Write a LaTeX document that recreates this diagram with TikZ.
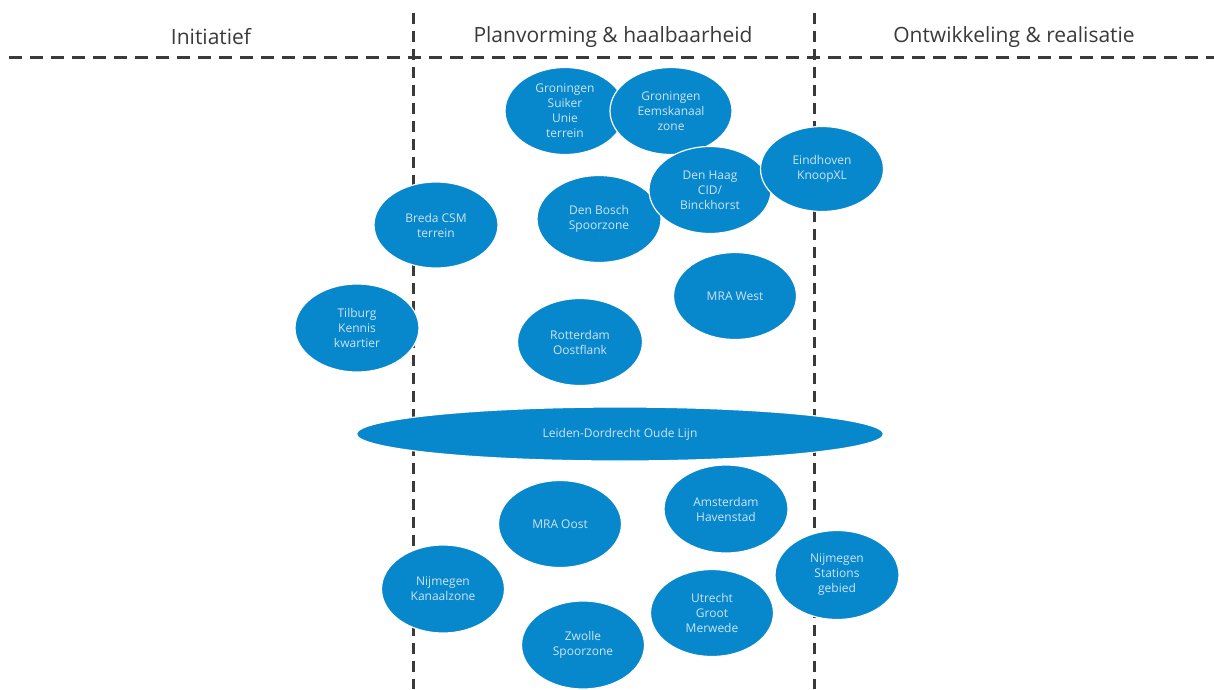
\documentclass[tikz,border=0pt]{standalone}
\usepackage{fontspec}
\setmainfont{Open Sans}
\usetikzlibrary{shapes.geometric}
\definecolor{blob}{RGB}{8,136,204}
\definecolor{blobtext}{RGB}{205,228,242}
\definecolor{linegray}{RGB}{58,58,58}
\begin{document}
\begin{tikzpicture}[x=1pt,y=-1pt,
  blobnode/.style={ellipse,fill=blob,draw=white,line width=1.2pt,inner sep=0pt,
    minimum width=123pt,minimum height=87pt,align=center,text=blobtext,
    font=\fontsize{12}{15}\selectfont},
  header/.style={text=linegray,font=\fontsize{21}{24}\selectfont,anchor=center},
  hdash/.style={draw=linegray,line width=3pt,dash pattern=on 13pt off 8pt},
  vdash/.style={draw=linegray,line width=3pt,dash pattern=on 11pt off 7pt}]
\useasboundingbox (0,0) rectangle (1214,689);
% headers
\node[header] (h1) at (211,37) {Initiatief};
\node[header] (h2) at (613,37) {Planvorming \& haalbaarheid};
\node[header] (h3) at (1014,37) {Ontwikkeling \& realisatie};
% lines
\coordinate (hl) at (9,57);
\coordinate (hr) at (1214,57);
\coordinate (v1t) at (413,13);
\coordinate (v1b) at (413,689);
\coordinate (v2t) at (814,13);
\coordinate (v2b) at (814,689);
\draw[hdash] (hl) -- (hr);
\draw[vdash] (v1t) -- (v1b);
\draw[vdash] (v2t) -- (v2b);
% blobs
\node[blobnode,minimum width=120pt] (gsu) at (565,111) {Groningen\\Suiker\\Unie\\terrein};
\node[blobnode,minimum width=122pt] (gez) at (671,111) {Groningen\\Eemskanaal\\zone};
\node[blobnode,minimum width=124pt] (dbs) at (599,219) {Den Bosch\\Spoorzone};
\node[blobnode,minimum width=122pt] (dhc) at (710,190) {Den Haag\\CID/\\Binckhorst};
\node[blobnode,minimum height=85pt] (ekx) at (822,169) {Eindhoven\\KnoopXL};
\node[blobnode,minimum width=124pt,minimum height=86pt] (bcsm) at (436,225) {Breda CSM\\terrein};
\node[blobnode] (mraw) at (735,296) {MRA West};
\node[blobnode,minimum width=124pt,minimum height=88pt] (tkk) at (357,328) {Tilburg\\Kennis\\kwartier};
\node[blobnode,minimum width=125pt] (rof) at (580,342) {Rotterdam\\Oostflank};
\node[blobnode,minimum width=527pt,minimum height=54pt] (ldol) at (620,434) {Leiden-Dordrecht Oude Lijn};
\node[blobnode] (mrao) at (560,524) {MRA Oost};
\node[blobnode,minimum width=124pt,minimum height=88pt] (ahs) at (726,509) {Amsterdam\\Havenstad};
\node[blobnode,minimum height=88pt] (nkz) at (443,589) {Nijmegen\\Kanaalzone};
\node[blobnode,minimum width=124pt,minimum height=89pt] (nsg) at (837,575) {Nijmegen\\Stations\\gebied};
\node[blobnode] (ugm) at (712,613) {Utrecht\\Groot\\Merwede};
\node[blobnode,minimum height=88pt] (zsz) at (583,645) {Zwolle\\Spoorzone};
\end{tikzpicture}
\end{document}
